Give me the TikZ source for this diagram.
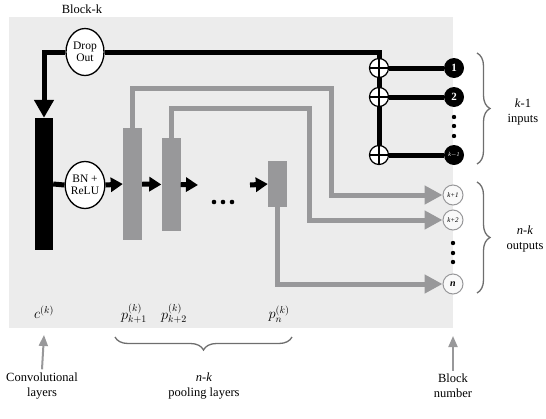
\documentclass[tikz,border=0pt]{standalone}
\usepackage{fontspec}
\setmainfont{Liberation Serif}
\usepackage{tikz}
\usetikzlibrary{arrows.meta, positioning, calc, decorations.pathreplacing, shapes.geometric}
\definecolor{panelgray}{RGB}{236,236,236}
\definecolor{bargray}{RGB}{152,152,154}
\definecolor{bracegray}{RGB}{110,110,110}
\pgfdeclarelayer{panel}
\pgfdeclarelayer{lines}
\pgfsetlayers{panel,lines,main}
\tikzset{
	opbox/.style={ellipse, draw, line width=1.3pt, fill=white, minimum width=38pt, minimum height=47pt, inner sep=0pt, align=center, font=\fontsize{11.5}{12}\selectfont},
	convbar/.style={fill=black, minimum width=18pt, minimum height=132pt, inner sep=0pt},
	poolbar/.style={fill=bargray, minimum width=19pt, inner sep=0pt},
	plusnode/.style={circle, draw, line width=1.2pt, fill=white, minimum size=19pt, inner sep=0pt,
		path picture={\draw[line width=1.2pt] (path picture bounding box.north) -- (path picture bounding box.south) (path picture bounding box.west) -- (path picture bounding box.east);}},
	innode/.style={circle, fill=black, minimum size=20pt, inner sep=0pt, text=white, font=\fontsize{11}{12}\selectfont\bfseries},
	outnode/.style={circle, draw=bargray, line width=1pt, fill=gray!5, minimum size=20pt, inner sep=0pt, font=\fontsize{7}{8}\selectfont\itshape},
	blackline/.style={line width=5pt, black},
	blackarr/.style={line width=5pt, black, -{Triangle[length=12pt, width=14pt]}},
	grayarr/.style={line width=5pt, bargray, -{Triangle[length=18pt, width=18pt]}},
	uparr/.style={line width=2pt, bargray, -{Triangle[length=11pt, width=9pt]}},
	bigbrace/.style={decorate, decoration={brace, amplitude=13pt}, line width=1.3pt, bracegray},
	lbl/.style={align=center, font=\fontsize{12.5}{15}\selectfont},
	mathlbl/.style={font=\fontsize{14}{16}\selectfont},
}
\begin{document}
\begin{tikzpicture}[x=1pt, y=-1pt]
	\useasboundingbox (0,0) rectangle (546,418);
	\begin{pgfonlayer}{panel}
		\fill[panelgray] (9,17) rectangle (453,328);
	\end{pgfonlayer}
	\node[lbl] (title) at (82,9) {Block-k};
	% layers
	\node[opbox] (dropout) at (85,52) {Drop\\Out};
	\node[convbar] (conv) at (44,184) {};
	\node[opbox] (bnrelu) at (85,185) {BN +\\ReLU};
	\node[poolbar, minimum height=112pt] (pool1) at (132.5,184) {};
	\node[poolbar, minimum height=93pt] (pool2) at (171,184.5) {};
	\node[poolbar, minimum height=46pt] (pooln) at (277.5,184) {};
	\coordinate (gapL) at (198,185);
	\coordinate (gapR) at (250,185);
	\foreach \x in {214,223,232}
		\fill (\x,202) circle (2.3pt);
	% sums and block numbers
	\node[plusnode] (plus1) at (379,68) {};
	\node[plusnode] (plus2) at (379,97) {};
	\node[plusnode] (plusk) at (379,155) {};
	\node[innode] (in1) at (454,68) {1};
	\node[innode] (in2) at (454,97) {2};
	\node[innode, font=\fontsize{6}{7}\selectfont\itshape] (ink) at (454,155) {k$-$1};
	\foreach \y in {117,126,136}
		\fill (454,\y) circle (2.2pt);
	\node[outnode] (out1) at (453,195) {k+1};
	\node[outnode] (out2) at (453,220) {k+2};
	\node[outnode, font=\fontsize{10}{10}\selectfont\itshape\bfseries] (outn) at (453,284) {n};
	\foreach \y in {243,253,262}
		\fill (453,\y) circle (2.2pt);
	% connectors
	\begin{pgfonlayer}{lines}
		\draw[blackline] (dropout.east) -| (plusk.center);
		\draw[blackline, -{Triangle[length=18pt, width=19pt]}] (dropout.west) -| (conv.north);
		\draw[blackline] (conv.east) -- (bnrelu.west);
		\draw[blackline] (plus1) -- (in1);
		\draw[blackline] (plus2) -- (in2);
		\draw[blackline] (plusk) -- (ink);
		\draw[grayarr] (pool1.north) |- (331,88) |- (out1.west);
		\draw[grayarr] (pool2.north) |- (309,108) |- (out2.west);
		\draw[grayarr] (pooln.south) |- (outn.west);
	\end{pgfonlayer}
	\draw[blackarr] (bnrelu.east) -- (pool1.west);
	\draw[blackarr] (pool1.east) -- (pool2.west);
	\draw[blackarr] (pool2.east) -- (gapL);
	\draw[blackarr] (gapR) -- (pooln.west);
	% labels
	\node[mathlbl] (clab) at (44,312) {$c^{(k)}$};
	\node[mathlbl] (p1lab) at (134,314) {$p^{(k)}_{k+1}$};
	\node[mathlbl] (p2lab) at (174,314) {$p^{(k)}_{k+2}$};
	\node[mathlbl] (pnlab) at (279,314) {$p^{(k)}_{n}$};
	\node[lbl] (convlab) at (42,386) {Convolutional\\layers};
	\node[lbl] (poollab) at (204,386) {\textit{n}-\textit{k}\\pooling layers};
	\node[lbl] (blocklab) at (453,386) {Block\\number};
	\node[lbl] (inlab) at (523,112) {\textit{k}-1\\inputs};
	\node[lbl] (outlab) at (525,239) {\textit{n}-\textit{k}\\outputs};
	\coordinate (convtip) at (44,335);
	\coordinate (blocktip) at (453,336);
	\draw[uparr] (convlab.north) -- (convtip);
	\draw[uparr] (blocklab.north) -- (blocktip);
	\draw[bigbrace] (292,337) -- (115,337);
	\draw[bigbrace] (477,53) -- (477,164);
	\draw[bigbrace] (477,182) -- (477,293);
\end{tikzpicture}
\end{document}
